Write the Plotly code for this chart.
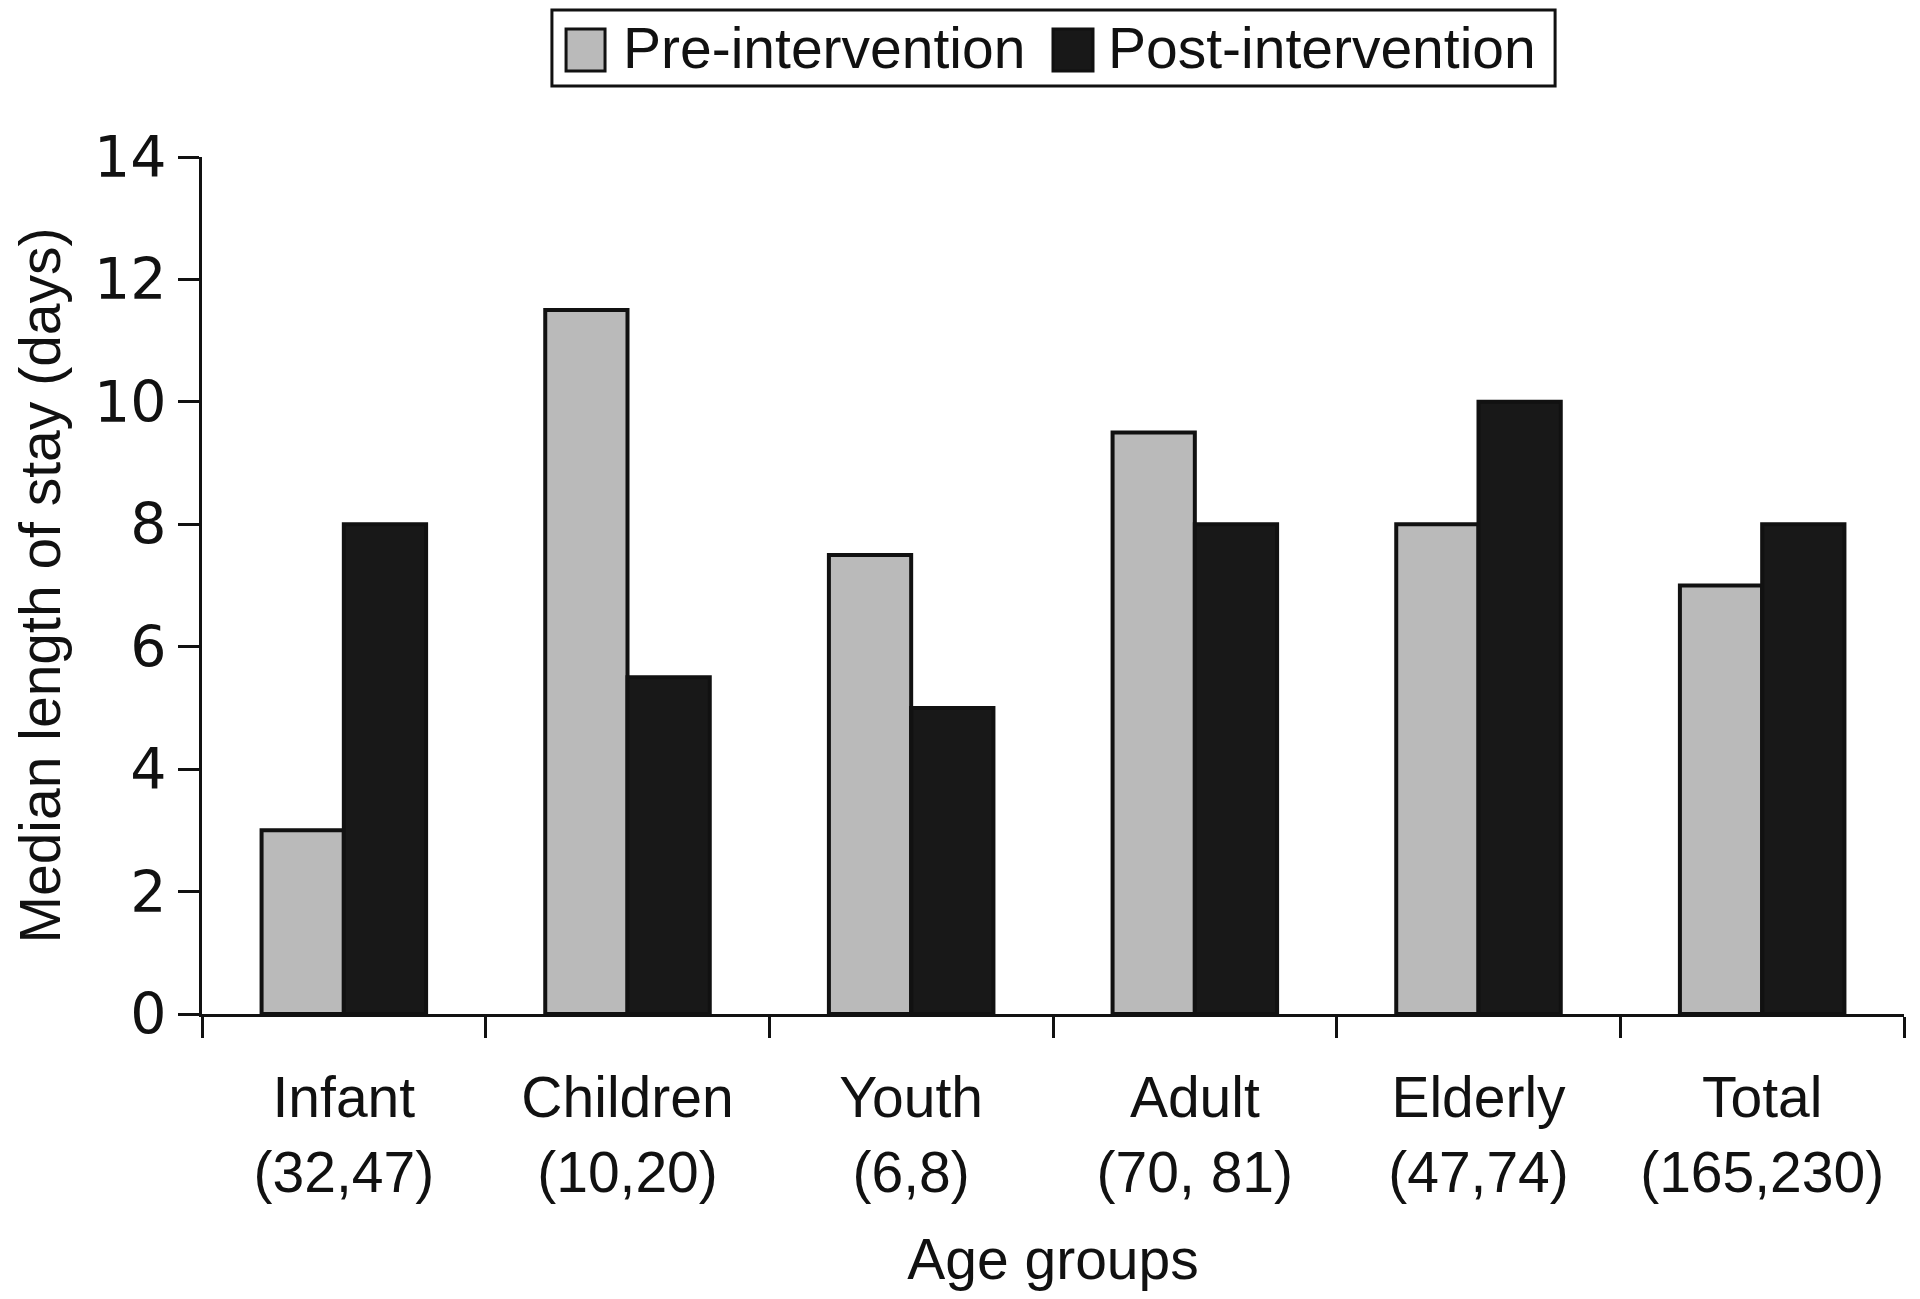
import plotly.graph_objects as go

# median length of stay by age group (n pre, n post)
groups = ['Infant<br>(32,47)', 'Children<br>(10,20)', 'Youth<br>(6,8)',
          'Adult<br>(70, 81)', 'Elderly<br>(47,74)', 'Total<br>(165,230)']
pre = [3, 11.5, 7.5, 9.5, 8, 7]
post = [8, 5.5, 5, 8, 10, 8]
series_names = ['Pre-intervention', 'Post-intervention']
series_colors = ['#bababa', '#181818']

font = 'Liberation Sans, Arial, sans-serif'

fig = go.Figure()
for name, vals, col in zip(series_names, [pre, post], series_colors):
    fig.add_trace(go.Bar(x=groups, y=vals, name=name, showlegend=False,
                         marker=dict(color=col, line=dict(color='#111111', width=4))))

# hand-drawn legend box at the top (paper coords)
fig.add_shape(type='rect', xref='paper', yref='paper', x0=0.2056, x1=0.795, y0=1.0828, y1=1.1715,
              line=dict(color='#111111', width=3), fillcolor='white')
legend_pos = [(0.2139, 0.2368, 0.2462), (0.5, 0.5235, 0.5311)]
for (sx0, sx1, tx), name, col in zip(legend_pos, series_names, series_colors):
    fig.add_shape(type='rect', xref='paper', yref='paper', x0=sx0, x1=sx1, y0=1.1004, y1=1.1494,
                  line=dict(color='#111111', width=3), fillcolor=col)
    fig.add_annotation(xref='paper', yref='paper', x=tx, y=1.127, xanchor='left', yanchor='middle',
                       text=name, showarrow=False, font=dict(size=57))

# page body has an 8px margin, so the figure is a bit smaller than the window
fig.update_layout(
    width=1904, height=1283,
    margin=dict(l=194, r=8, t=149, b=277),
    plot_bgcolor='white', paper_bgcolor='white',
    barmode='group', bargap=0.42, bargroupgap=0,
    font=dict(family=font, color='#111111', size=57),
    showlegend=False,
)
fig.update_xaxes(showline=True, linecolor='#111111', linewidth=3, automargin=False,
                 ticks='outside', tickson='boundaries', ticklen=21, tickwidth=3,
                 tickcolor='#111111', showgrid=False, ticklabelstandoff=32,
                 title=dict(text='Age groups', font=dict(size=57), standoff=44),
                 tickfont=dict(size=57))
fig.update_yaxes(range=[0, 14], dtick=2, showline=True, linecolor='#111111', linewidth=3,
                 ticks='outside', ticklen=21, tickwidth=3, tickcolor='#111111',
                 showgrid=False, zeroline=False, automargin=False,
                 title=dict(text='Median length of stay (days)', font=dict(size=57), standoff=22),
                 tickfont=dict(size=57, family='DejaVu Sans'))

fig.write_html('out.html')
